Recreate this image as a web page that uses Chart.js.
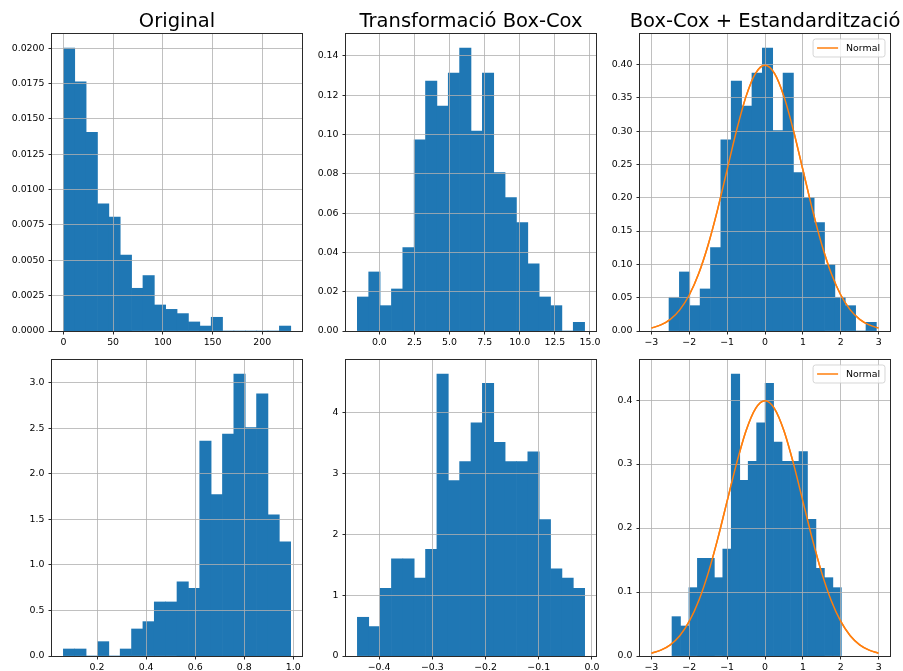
<!DOCTYPE html>
<html>
<head>
<meta charset="utf-8">
<script src="https://cdn.jsdelivr.net/npm/chart.js@4"></script>
<style>
html,body{margin:0;padding:0;background:#fff;width:903px;height:671px;overflow:hidden;position:relative}
canvas{position:absolute}
</style>
</head>
<body>
<canvas id="c0"></canvas><canvas id="c1"></canvas><canvas id="c2"></canvas>
<canvas id="c3"></canvas><canvas id="c4"></canvas><canvas id="c5"></canvas>
<script>
// ---------- titles ----------
const titles = ['Original', 'Transformació Box-Cox', 'Box-Cox + Estandardització'];
const normalLabel = 'Normal';

// ---------- top row histograms (density per bin, 20 bins) ----------
const origABinStart = 0, origABinWidth = 11.43;
const origA = [0.0200, 0.01762, 0.01405, 0.00900, 0.00805, 0.00536, 0.00302, 0.00392, 0.00184, 0.00153,
               0.00123, 0.00064, 0.00035, 0.00097, 0, 0, 0, 0, 0, 0.00035];

const boxcoxABinStart = -1.569, boxcoxABinWidth = 0.8094;
const boxcoxA = [0.01731, 0.03004, 0.01290, 0.02138, 0.04242, 0.09724, 0.12710, 0.11437, 0.13118, 0.14390,
                 0.10165, 0.13118, 0.08061, 0.06788, 0.05515, 0.03411, 0.01731, 0.01290, 0, 0.00441];

const stdABinStart = -2.534, stdABinWidth = 0.2737;
const stdA = [0.0506, 0.0886, 0.0380, 0.0631, 0.1252, 0.2869, 0.3750, 0.3374, 0.3870, 0.4245,
              0.3009, 0.3870, 0.2378, 0.2003, 0.1627, 0.0996, 0.0506, 0.0380, 0, 0.0130];

// ---------- bottom row histograms ----------
const origBBinStart = 0.0626, origBBinWidth = 0.04633;
const origB = [0.0769, 0.0769, 0, 0.1575, 0, 0.0769, 0.2967, 0.3773, 0.5934, 0.5934,
               0.8132, 0.7436, 2.359, 1.773, 2.436, 3.095, 2.509, 2.879, 1.549, 1.253];

const boxcoxBBinStart = -0.44075, boxcoxBBinWidth = 0.02135;
const boxcoxB = [0.637, 0.484, 1.115, 1.599, 1.599, 1.280, 1.753, 4.637, 2.885, 3.198,
                 3.835, 4.484, 3.516, 3.198, 3.198, 3.357, 2.242, 1.434, 1.280, 1.115];

const stdBBinStart = -2.455, stdBBinWidth = 0.2235;
const stdB = [0.0615, 0.0469, 0.1068, 0.1526, 0.1526, 0.1224, 0.1672, 0.4406, 0.2745, 0.3042,
              0.3646, 0.4260, 0.3344, 0.3042, 0.3042, 0.3193, 0.2135, 0.1370, 0.1224, 0.1068];

// ---------- standard normal curve ----------
const normalX = [-3, -2.75, -2.5, -2.25, -2, -1.75, -1.5, -1.25, -1, -0.75, -0.5, -0.25, 0,
                 0.25, 0.5, 0.75, 1, 1.25, 1.5, 1.75, 2, 2.25, 2.5, 2.75, 3];
const normalY = [0.0044, 0.0091, 0.0175, 0.0317, 0.0540, 0.0863, 0.1295, 0.1826, 0.2420, 0.3011, 0.3521, 0.3867, 0.3989,
                 0.3867, 0.3521, 0.3011, 0.2420, 0.1826, 0.1295, 0.0863, 0.0540, 0.0317, 0.0175, 0.0091, 0.0044];

// ---------- tick labels ----------
const origAXTicks = ['0', '50', '100', '150', '200'];
const origAYTicks = ['0.0000', '0.0025', '0.0050', '0.0075', '0.0100', '0.0125', '0.0150', '0.0175', '0.0200'];
const boxcoxAXTicks = ['0.0', '2.5', '5.0', '7.5', '10.0', '12.5', '15.0'];
const boxcoxAYTicks = ['0.00', '0.02', '0.04', '0.06', '0.08', '0.10', '0.12', '0.14'];
const stdXTicks = ['−3', '−2', '−1', '0', '1', '2', '3'];
const stdAYTicks = ['0.00', '0.05', '0.10', '0.15', '0.20', '0.25', '0.30', '0.35', '0.40'];
const origBXTicks = ['0.2', '0.4', '0.6', '0.8', '1.0'];
const origBYTicks = ['0.0', '0.5', '1.0', '1.5', '2.0', '2.5', '3.0'];
const boxcoxBXTicks = ['−0.4', '−0.3', '−0.2', '−0.1', '0.0'];
const boxcoxBYTicks = ['0', '1', '2', '3', '4'];
const stdBYTicks = ['0.0', '0.1', '0.2', '0.3', '0.4'];

// ---------- axis ranges ----------
const xRanges = [[-11.43, 239.9], [-2.378, 15.43], [-3.3, 3.3], [0.0163, 1.0354], [-0.4621, 0.00756], [-3.3, 3.3]];
const yMaxes = [0.0210, 0.1511, 0.4457, 3.250, 4.869, 0.4626];

// ---------- layout (pixels) ----------
const FONT = "'DejaVu Sans', 'Liberation Sans', sans-serif";
const PLOT_W = 250, AXIS_W = 56, XAXIS_H = 24;
const plotLefts = [52, 346, 640];
const rows = [{canvasTop: 0, padTop: 0, plotH: 297, title: true}, {canvasTop: 350, padTop: 10, plotH: 296, title: false}];

const panels = [
  {id: 'c0', row: 0, col: 0, d: origA, s: origABinStart, w: origABinWidth, xt: origAXTicks, yt: origAYTicks, normal: false},
  {id: 'c1', row: 0, col: 1, d: boxcoxA, s: boxcoxABinStart, w: boxcoxABinWidth, xt: boxcoxAXTicks, yt: boxcoxAYTicks, normal: false},
  {id: 'c2', row: 0, col: 2, d: stdA, s: stdABinStart, w: stdABinWidth, xt: stdXTicks, yt: stdAYTicks, normal: true},
  {id: 'c3', row: 1, col: 0, d: origB, s: origBBinStart, w: origBBinWidth, xt: origBXTicks, yt: origBYTicks, normal: false},
  {id: 'c4', row: 1, col: 1, d: boxcoxB, s: boxcoxBBinStart, w: boxcoxBBinWidth, xt: boxcoxBXTicks, yt: boxcoxBYTicks, normal: false},
  {id: 'c5', row: 1, col: 2, d: stdB, s: stdBBinStart, w: stdBBinWidth, xt: stdXTicks, yt: stdBYTicks, normal: true}
];

const toNum = s => Number(String(s).replace('−', '-'));

Chart.defaults.font.family = FONT;
Chart.defaults.font.size = 9.4;
Chart.defaults.color = '#000';

const overlayPlugin = {
  id: 'overlay',
  afterDraw(chart) {
    const ctx = chart.ctx;
    const a = chart.chartArea;
    // redraw the normal curve above the grid
    chart.data.datasets.forEach((ds, i) => {
      if (ds.type === 'line') {
        const meta = chart.getDatasetMeta(i);
        ctx.save();
        ctx.beginPath();
        ctx.rect(a.left, a.top, a.right - a.left, a.bottom - a.top);
        ctx.clip();
        meta.controller.draw();
        ctx.restore();
      }
    });
    // frame (4 spines)
    ctx.save();
    ctx.strokeStyle = '#2a2a2a';
    ctx.lineWidth = 1;
    ctx.strokeRect(Math.round(a.left) - 0.5, Math.round(a.top) - 0.5,
                   Math.round(a.right - a.left) + 1, Math.round(a.bottom - a.top) + 1);
    ctx.restore();
    // legend inside the axes, upper right
    const lineDs = chart.data.datasets.find(ds => ds.type === 'line');
    if (lineDs) {
      ctx.save();
      ctx.font = '9.4px ' + FONT;
      const tw = ctx.measureText(lineDs.label).width;
      const bw = 33 + tw + 5, bh = 18;
      const bx = a.right - 5 - bw, by = a.top + 5;
      const r = 2.5;
      ctx.beginPath();
      ctx.moveTo(bx + r, by);
      ctx.lineTo(bx + bw - r, by);
      ctx.arcTo(bx + bw, by, bx + bw, by + r, r);
      ctx.lineTo(bx + bw, by + bh - r);
      ctx.arcTo(bx + bw, by + bh, bx + bw - r, by + bh, r);
      ctx.lineTo(bx + r, by + bh);
      ctx.arcTo(bx, by + bh, bx, by + bh - r, r);
      ctx.lineTo(bx, by + r);
      ctx.arcTo(bx, by, bx + r, by, r);
      ctx.closePath();
      ctx.fillStyle = 'rgba(255,255,255,0.8)';
      ctx.fill();
      ctx.strokeStyle = 'rgba(204,204,204,0.8)';
      ctx.lineWidth = 1;
      ctx.stroke();
      const cy = by + bh / 2;
      ctx.beginPath();
      ctx.moveTo(bx + 4, cy);
      ctx.lineTo(bx + 25, cy);
      ctx.strokeStyle = lineDs.borderColor;
      ctx.lineWidth = 1.5;
      ctx.stroke();
      ctx.fillStyle = '#000';
      ctx.textBaseline = 'middle';
      ctx.textAlign = 'left';
      ctx.fillText(lineDs.label, bx + 33, cy + 0.5);
      ctx.restore();
    }
  }
};

panels.forEach((p, k) => {
  const row = rows[p.row];
  const canvas = document.getElementById(p.id);
  const cw = PLOT_W + 2 * AXIS_W;
  const topBlock = row.title ? 34 : row.padTop;
  const ch = topBlock + row.plotH + XAXIS_H;
  canvas.width = cw; canvas.height = ch;
  canvas.style.width = cw + 'px'; canvas.style.height = ch + 'px';
  canvas.style.left = (plotLefts[p.col] - AXIS_W) + 'px';
  canvas.style.top = row.canvasTop + 'px';

  const centers = p.d.map((_, i) => p.s + (i + 0.5) * p.w);
  const datasets = [{
    type: 'bar', label: 'hist', xAxisID: 'x', yAxisID: 'y',
    data: p.d.map((v, i) => ({x: centers[i], y: v})),
    backgroundColor: '#1f77b4', borderWidth: 0,
    barPercentage: 1, categoryPercentage: 1
  }];
  if (p.normal) {
    datasets.push({
      type: 'line', label: normalLabel, xAxisID: 'x', yAxisID: 'y',
      data: normalX.map((x, i) => ({x: x, y: normalY[i]})),
      borderColor: '#ff7f0e', borderWidth: 1.5, pointRadius: 0,
      cubicInterpolationMode: 'monotone', fill: false
    });
  }
  const gridOpts = {color: '#b0b0b0', lineWidth: 0.8, z: 1, drawTicks: true, tickLength: 3.5, tickColor: '#2a2a2a', tickWidth: 1};
  new Chart(canvas, {
    type: 'bar',
    data: {datasets},
    options: {
      responsive: false, animation: false, events: [],
      devicePixelRatio: 1,
      layout: {padding: {top: row.title ? 0 : row.padTop, right: 0, left: 0, bottom: 0}},
      plugins: {
        legend: {display: false},
        tooltip: {enabled: false},
        title: {
          display: row.title, text: titles[p.col],
          font: {size: 19.5, family: FONT, weight: 'normal', lineHeight: 1.2},
          color: '#000', padding: {top: 9.8, bottom: 0.8}
        }
      },
      scales: {
        x: {
          type: 'linear', position: 'bottom', min: xRanges[k][0], max: xRanges[k][1], offset: false,
          grid: Object.assign({offset: false}, gridOpts),
          border: {display: false},
          ticks: {autoSkip: false, maxRotation: 0, minRotation: 0, padding: 2, color: '#000',
                  callback: (v, i) => p.xt[i]},
          afterBuildTicks: s => { s.ticks = p.xt.map(t => ({value: toNum(t)})); },
          afterFit: s => { s.height = XAXIS_H; }
        },
        y: {
          type: 'linear', position: 'left', min: 0, max: yMaxes[k],
          grid: gridOpts,
          border: {display: false},
          ticks: {autoSkip: false, padding: 4, color: '#000', callback: (v, i) => p.yt[i]},
          afterBuildTicks: s => { s.ticks = p.yt.map(t => ({value: toNum(t)})); },
          afterFit: s => { s.width = AXIS_W; }
        },
        yR: {
          type: 'linear', position: 'right', min: 0, max: 1,
          grid: {display: false, drawTicks: false},
          border: {display: false},
          ticks: {display: false},
          afterFit: s => { s.width = AXIS_W; }
        }
      }
    },
    plugins: [overlayPlugin]
  });
});
</script>
</body>
</html>
